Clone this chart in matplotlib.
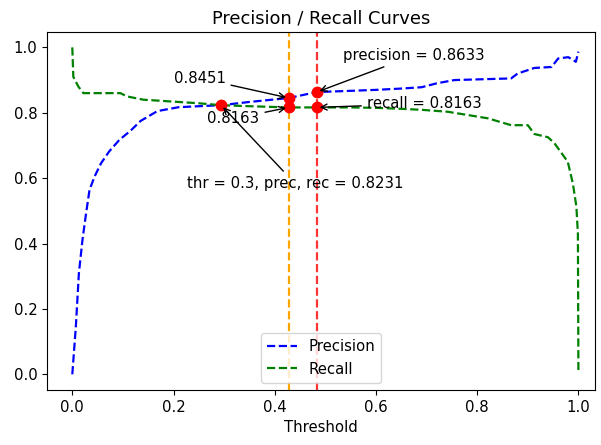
import matplotlib.pyplot as plt

plt.rcParams['font.size'] = 10.7
plt.rcParams['lines.linewidth'] = 1.6

# precision / recall vs decision threshold
p_thr = [0.0, 0.007, 0.013, 0.02, 0.027, 0.034, 0.044, 0.057, 0.073, 0.093, 0.115,
         0.135, 0.168, 0.21, 0.25, 0.294, 0.35, 0.4277, 0.4832, 0.55, 0.6, 0.65,
         0.69, 0.72, 0.755, 0.8, 0.867, 0.88, 0.913, 0.947, 0.96, 0.98, 0.995, 1.0]
precision = [0.0, 0.146, 0.309, 0.41, 0.49, 0.564, 0.605, 0.646, 0.682, 0.717, 0.745,
             0.775, 0.805, 0.817, 0.82, 0.8231, 0.833, 0.8451, 0.8633, 0.867, 0.87, 0.874,
             0.878, 0.89, 0.9, 0.902, 0.905, 0.92, 0.937, 0.94, 0.966, 0.97, 0.956, 0.987]

r_thr = [0.0, 0.002, 0.012, 0.022, 0.06, 0.095, 0.108, 0.14, 0.2, 0.25, 0.294, 0.35,
         0.4277, 0.4832, 0.55, 0.6, 0.65, 0.69, 0.742, 0.821, 0.867, 0.9, 0.913, 0.94,
         0.953, 0.979, 0.989, 0.996, 0.999, 1.0]
recall = [1.0, 0.91, 0.88, 0.86, 0.86, 0.86, 0.85, 0.84, 0.834, 0.829, 0.8231, 0.82,
          0.8163, 0.8163, 0.8163, 0.815, 0.812, 0.809, 0.803, 0.783, 0.762, 0.762, 0.735,
          0.725, 0.706, 0.65, 0.584, 0.513, 0.43, 0.013]

cross_thr, cross_val = 0.294, 0.8231
thr_a, prec_a, rec_a = 0.4277, 0.8451, 0.8163
thr_b, prec_b, rec_b = 0.4832, 0.8633, 0.8163

fig = plt.figure(figsize=(6.01, 4.45), dpi=100)
ax = fig.add_axes([0.0782, 0.1236, 0.912, 0.8045])

ax.plot(p_thr, precision, 'b--', label='Precision')
ax.plot(r_thr, recall, 'g--', label='Recall')
ax.axvline(thr_a, color='orange', linestyle='--')
ax.axvline(thr_b, color='red', linestyle='--', alpha=0.8)

ax.plot([cross_thr], [cross_val], 'ro', markersize=7.5)
ax.plot([thr_a, thr_a], [prec_a, rec_a], 'ro', markersize=7.5)
ax.plot([thr_b, thr_b], [prec_b, rec_b], 'ro', markersize=7.5)

arrow = dict(arrowstyle='->', color='black')
ax.annotate(f'{prec_a:.4f}', xy=(thr_a, prec_a), xytext=(0.2, 0.892), arrowprops=arrow)
ax.annotate(f'{rec_a:.4f}', xy=(thr_a, rec_a), xytext=(0.267, 0.768), arrowprops=arrow)
ax.annotate(f'precision = {prec_b:.4f}', xy=(thr_b, prec_b), xytext=(0.535, 0.961),
            arrowprops=arrow)
ax.annotate(f'recall = {rec_b:.4f}', xy=(thr_b, rec_b), xytext=(0.582, 0.814),
            arrowprops=arrow)
ax.annotate(f'thr = 0.3, prec, rec = {cross_val:.4f}', xy=(cross_thr, cross_val),
            xytext=(0.226, 0.57), arrowprops=arrow)

ax.set_xlim(-0.05, 1.033)
ax.set_ylim(-0.048, 1.047)
ax.set_title('Precision / Recall Curves')
ax.set_xlabel('Threshold')
ax.legend(loc='lower center')

fig.savefig('out.png', dpi=100)
